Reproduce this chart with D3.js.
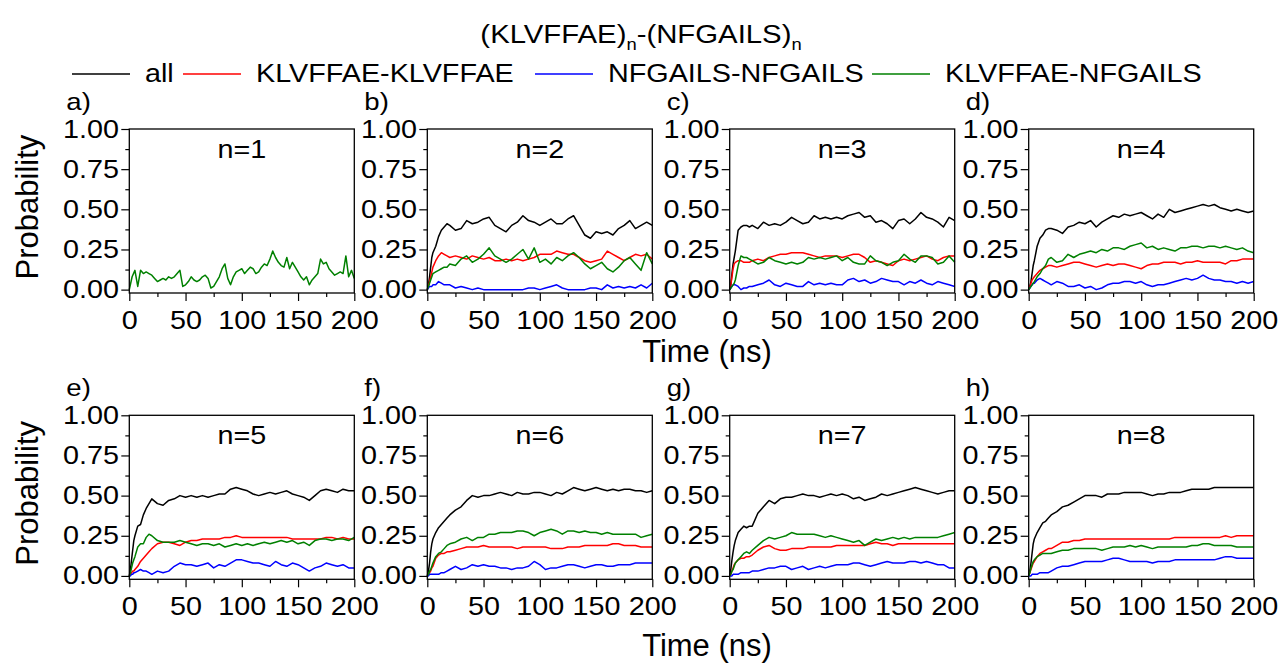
<!DOCTYPE html>
<html><head><meta charset="utf-8">
<script src="https://cdn.jsdelivr.net/npm/d3@7"></script>
<style>
body{margin:0;background:#fff}
text{font-family:"Liberation Sans",Arial,sans-serif;fill:#000}
</style>
</head><body>
<svg id="chart" width="1278" height="663"></svg>
<script>
// ---------------- DATA ----------------
const seriesNames = ["all","KLVFFAE-KLVFFAE","NFGAILS-NFGAILS","KLVFFAE-NFGAILS"];
const seriesColors = ["#000000","#ff0000","#0000ff","#008000"];
const panelLetters = ["a)","b)","c)","d)","e)","f)","g)","h)"];
const panelTitles = ["n=1","n=2","n=3","n=4","n=5","n=6","n=7","n=8"];
const yTicks = [0,0.25,0.5,0.75,1];
const yMinor = [0.125,0.375,0.625,0.875];
const xTicks = [0,50,100,150,200];
const xMinor = [25,75,125,175];

const timeA = [0,2.5,5,7.5,10,12.5,15,17.5,20,22.5,25,27.5,30,32.5,35,37.5,40,42.5,45,47.5,50,52.5,55,57.5,60,62.5,65,67.5,70,72.5,75,77.5,80,82.5,85,87.5,90,92.5,95,97.5,100,102.5,105,107.5,110,112.5,115,117.5,120,122.5,125,127.5,130,132.5,135,137.5,140,142.5,145,147.5,150,152.5,155,157.5,160,162.5,165,167.5,170,172.5,175,177.5,180,182.5,185,187.5,190,192.5,195,197.5,200];
const timeB = [0,1,2,3,4,5,7.5,10,12.5,15,17.5,20,25,30,35,40,45,50,55,60,65,70,75,80,85,90,95,100,105,110,115,120,125,130,135,140,145,150,155,160,165,170,175,180,185,190,195,200];

// n=1 (only KLVFFAE-NFGAILS pair exists)
const n1_kn = [0.00,0.08,0.12,0.02,0.12,0.10,0.11,0.10,0.09,0.07,0.05,0.06,0.07,0.06,0.08,0.07,0.08,0.10,0.12,0.02,0.03,0.05,0.08,0.06,0.05,0.06,0.08,0.09,0.07,0.01,0.02,0.05,0.08,0.13,0.16,0.07,0.03,0.08,0.11,0.12,0.13,0.10,0.12,0.14,0.13,0.10,0.11,0.14,0.16,0.15,0.19,0.24,0.20,0.17,0.15,0.14,0.20,0.13,0.17,0.14,0.11,0.08,0.06,0.08,0.03,0.06,0.08,0.10,0.19,0.16,0.17,0.13,0.11,0.09,0.10,0.11,0.10,0.21,0.08,0.12,0.07];

// n=2
const n2_all = [0,0.03,0.08,0.14,0.20,0.23,0.27,0.33,0.37,0.39,0.41,0.40,0.37,0.38,0.43,0.41,0.42,0.44,0.45,0.40,0.38,0.36,0.40,0.42,0.46,0.43,0.42,0.40,0.42,0.44,0.41,0.41,0.44,0.46,0.40,0.34,0.32,0.36,0.35,0.36,0.34,0.38,0.40,0.43,0.38,0.40,0.42,0.40];
const n2_kk = [0,0.02,0.05,0.08,0.11,0.14,0.18,0.21,0.23,0.22,0.21,0.20,0.21,0.20,0.19,0.21,0.20,0.19,0.20,0.18,0.18,0.19,0.18,0.19,0.18,0.19,0.20,0.22,0.22,0.22,0.24,0.23,0.22,0.22,0.20,0.18,0.17,0.18,0.19,0.24,0.22,0.20,0.18,0.20,0.22,0.21,0.22,0.19];
const n2_nn = [0,0.01,0.02,0.02,0.02,0.03,0.03,0.05,0.04,0.03,0.03,0.03,0.01,0.02,0.01,0.00,0.01,0.00,0.00,0.00,0.00,0.00,0.00,0.00,0.00,0.01,0.01,0.00,0.01,0.02,0.03,0.01,0.00,0.00,0.00,0.00,0.01,0.01,0.00,0.03,0.01,0.02,0.01,0.02,0.01,0.03,0.01,0.04];
const n2_kn = [0,0.02,0.04,0.06,0.08,0.10,0.11,0.12,0.13,0.14,0.14,0.16,0.15,0.19,0.21,0.17,0.19,0.22,0.26,0.21,0.19,0.17,0.19,0.22,0.25,0.19,0.26,0.17,0.19,0.16,0.20,0.18,0.21,0.23,0.20,0.16,0.13,0.15,0.17,0.13,0.11,0.14,0.18,0.20,0.16,0.12,0.23,0.16];

// n=3
const n3_all = [0,0.03,0.10,0.16,0.20,0.24,0.37,0.39,0.40,0.40,0.39,0.40,0.38,0.42,0.40,0.41,0.40,0.42,0.45,0.43,0.41,0.42,0.46,0.44,0.45,0.44,0.45,0.44,0.46,0.47,0.48,0.45,0.46,0.42,0.43,0.41,0.38,0.43,0.44,0.41,0.44,0.48,0.45,0.44,0.42,0.39,0.45,0.43];
const n3_kk = [0,0.03,0.08,0.13,0.16,0.17,0.18,0.18,0.17,0.17,0.17,0.18,0.19,0.18,0.20,0.21,0.22,0.22,0.23,0.23,0.23,0.22,0.21,0.20,0.21,0.21,0.21,0.20,0.21,0.22,0.22,0.20,0.17,0.18,0.17,0.16,0.15,0.18,0.19,0.18,0.19,0.20,0.21,0.19,0.18,0.20,0.21,0.21];
const n3_nn = [0,0.01,0.02,0.03,0.03,0.03,0.02,0.00,0.01,0.01,0.02,0.02,0.03,0.04,0.06,0.03,0.02,0.04,0.03,0.02,0.02,0.05,0.03,0.04,0.03,0.04,0.03,0.03,0.06,0.07,0.05,0.06,0.04,0.05,0.07,0.06,0.05,0.05,0.03,0.05,0.04,0.06,0.04,0.03,0.05,0.04,0.03,0.02];
const n3_kn = [0,0.01,0.02,0.03,0.04,0.06,0.15,0.21,0.20,0.20,0.19,0.18,0.16,0.17,0.20,0.18,0.17,0.16,0.17,0.16,0.17,0.20,0.19,0.20,0.19,0.20,0.21,0.18,0.20,0.17,0.16,0.16,0.21,0.18,0.17,0.15,0.17,0.18,0.22,0.19,0.17,0.21,0.21,0.20,0.16,0.17,0.21,0.17];

// n=4
const n4_all = [0,0.02,0.05,0.10,0.15,0.18,0.27,0.32,0.34,0.37,0.38,0.38,0.37,0.35,0.39,0.40,0.42,0.41,0.43,0.39,0.42,0.44,0.46,0.45,0.47,0.46,0.47,0.48,0.46,0.44,0.47,0.45,0.50,0.48,0.49,0.50,0.51,0.52,0.53,0.52,0.53,0.51,0.50,0.49,0.50,0.49,0.48,0.49];
const n4_kk = [0,0.02,0.04,0.06,0.07,0.08,0.10,0.12,0.13,0.14,0.15,0.15,0.14,0.15,0.16,0.17,0.17,0.16,0.15,0.14,0.15,0.16,0.15,0.16,0.16,0.15,0.14,0.13,0.15,0.16,0.16,0.17,0.17,0.17,0.16,0.17,0.17,0.18,0.17,0.17,0.17,0.17,0.16,0.18,0.18,0.19,0.19,0.19];
const n4_nn = [0,0.01,0.02,0.03,0.04,0.04,0.06,0.07,0.06,0.05,0.04,0.03,0.05,0.04,0.02,0.02,0.03,0.01,0.02,0.00,0.01,0.03,0.04,0.04,0.05,0.05,0.04,0.05,0.03,0.02,0.03,0.03,0.04,0.05,0.06,0.07,0.06,0.07,0.09,0.07,0.06,0.06,0.05,0.05,0.04,0.05,0.04,0.05];
const n4_kn = [0,0.01,0.02,0.03,0.04,0.05,0.08,0.10,0.13,0.15,0.19,0.20,0.17,0.18,0.22,0.20,0.22,0.23,0.24,0.23,0.25,0.24,0.26,0.26,0.25,0.27,0.28,0.29,0.26,0.27,0.25,0.26,0.25,0.24,0.26,0.26,0.27,0.27,0.26,0.27,0.27,0.26,0.27,0.26,0.25,0.26,0.24,0.23];

// n=5
const n5_all = [0,0.04,0.10,0.16,0.22,0.25,0.31,0.32,0.38,0.42,0.45,0.48,0.45,0.44,0.47,0.48,0.50,0.49,0.50,0.49,0.50,0.49,0.50,0.51,0.51,0.54,0.55,0.54,0.53,0.51,0.50,0.51,0.52,0.51,0.52,0.53,0.51,0.50,0.49,0.47,0.50,0.53,0.54,0.53,0.52,0.54,0.53,0.53];
const n5_kk = [0,0.01,0.02,0.03,0.03,0.04,0.06,0.09,0.11,0.13,0.15,0.17,0.20,0.21,0.21,0.20,0.19,0.21,0.22,0.22,0.23,0.23,0.23,0.23,0.24,0.24,0.25,0.24,0.24,0.24,0.24,0.24,0.24,0.24,0.24,0.24,0.23,0.23,0.23,0.23,0.23,0.23,0.24,0.24,0.23,0.24,0.23,0.23];
const n5_nn = [0,0.00,0.01,0.01,0.02,0.02,0.03,0.04,0.03,0.03,0.02,0.01,0.03,0.02,0.03,0.06,0.08,0.07,0.07,0.06,0.07,0.08,0.05,0.07,0.06,0.08,0.10,0.10,0.09,0.08,0.08,0.07,0.06,0.09,0.07,0.06,0.08,0.07,0.05,0.03,0.05,0.06,0.08,0.07,0.06,0.07,0.05,0.05];
const n5_kn = [0,0.02,0.05,0.08,0.10,0.12,0.18,0.20,0.20,0.24,0.26,0.25,0.22,0.21,0.21,0.21,0.22,0.21,0.20,0.19,0.20,0.20,0.19,0.20,0.18,0.19,0.20,0.19,0.20,0.19,0.20,0.21,0.20,0.21,0.22,0.21,0.22,0.20,0.21,0.19,0.22,0.23,0.23,0.22,0.23,0.23,0.22,0.24];

// n=6
const n6_all = [0,0.03,0.08,0.15,0.20,0.23,0.27,0.30,0.32,0.34,0.36,0.38,0.41,0.43,0.47,0.50,0.49,0.50,0.50,0.51,0.52,0.51,0.50,0.52,0.51,0.51,0.52,0.52,0.51,0.50,0.52,0.51,0.53,0.55,0.54,0.53,0.54,0.55,0.54,0.53,0.54,0.53,0.54,0.54,0.53,0.53,0.52,0.53];
const n6_kk = [0,0.01,0.02,0.03,0.05,0.06,0.11,0.13,0.14,0.14,0.15,0.15,0.16,0.17,0.18,0.18,0.18,0.19,0.18,0.18,0.18,0.18,0.18,0.17,0.18,0.18,0.18,0.18,0.18,0.17,0.17,0.17,0.18,0.18,0.18,0.19,0.19,0.19,0.19,0.19,0.20,0.20,0.19,0.19,0.19,0.18,0.18,0.18];
const n6_nn = [0,0.00,0.01,0.01,0.01,0.01,0.01,0.01,0.02,0.02,0.03,0.04,0.06,0.04,0.05,0.07,0.06,0.07,0.06,0.06,0.05,0.05,0.04,0.05,0.05,0.06,0.09,0.07,0.04,0.05,0.05,0.06,0.07,0.07,0.06,0.05,0.06,0.07,0.07,0.06,0.06,0.07,0.07,0.07,0.08,0.08,0.08,0.08];
const n6_kn = [0,0.01,0.03,0.04,0.06,0.08,0.12,0.14,0.15,0.17,0.19,0.20,0.21,0.23,0.24,0.22,0.24,0.24,0.26,0.26,0.27,0.27,0.27,0.28,0.28,0.27,0.25,0.27,0.28,0.29,0.28,0.26,0.28,0.28,0.27,0.28,0.27,0.27,0.26,0.27,0.26,0.26,0.26,0.26,0.26,0.24,0.25,0.26];

// n=7
const n7_all = [0,0.04,0.10,0.15,0.19,0.22,0.27,0.29,0.31,0.30,0.31,0.31,0.39,0.43,0.47,0.45,0.48,0.49,0.49,0.50,0.51,0.50,0.50,0.49,0.50,0.51,0.50,0.51,0.50,0.48,0.49,0.47,0.48,0.49,0.51,0.50,0.51,0.52,0.53,0.54,0.55,0.54,0.53,0.52,0.51,0.52,0.53,0.53];
const n7_kk = [0,0.01,0.03,0.05,0.07,0.08,0.10,0.11,0.11,0.12,0.12,0.13,0.16,0.18,0.19,0.17,0.16,0.16,0.17,0.17,0.17,0.18,0.18,0.18,0.18,0.18,0.19,0.19,0.19,0.19,0.19,0.19,0.20,0.21,0.20,0.20,0.19,0.20,0.20,0.20,0.20,0.20,0.20,0.20,0.20,0.20,0.20,0.20];
const n7_nn = [0,0.00,0.00,0.01,0.01,0.01,0.01,0.02,0.02,0.02,0.02,0.03,0.03,0.04,0.05,0.05,0.06,0.06,0.04,0.05,0.06,0.04,0.05,0.06,0.05,0.06,0.07,0.07,0.07,0.08,0.08,0.07,0.06,0.07,0.08,0.09,0.08,0.08,0.08,0.09,0.09,0.08,0.09,0.08,0.07,0.07,0.05,0.05];
const n7_kn = [0,0.01,0.03,0.04,0.06,0.08,0.10,0.12,0.14,0.15,0.14,0.16,0.19,0.22,0.24,0.23,0.24,0.25,0.27,0.26,0.26,0.26,0.26,0.25,0.24,0.25,0.24,0.23,0.22,0.21,0.22,0.19,0.21,0.23,0.22,0.23,0.24,0.23,0.24,0.23,0.24,0.24,0.24,0.24,0.24,0.25,0.26,0.27];

// n=8
const n8_all = [0,0.03,0.08,0.14,0.20,0.23,0.27,0.30,0.33,0.34,0.36,0.38,0.40,0.43,0.44,0.46,0.48,0.50,0.50,0.50,0.49,0.51,0.51,0.51,0.52,0.52,0.52,0.52,0.51,0.50,0.51,0.51,0.52,0.52,0.52,0.53,0.54,0.54,0.54,0.54,0.55,0.55,0.55,0.55,0.55,0.55,0.55,0.55];
const n8_kk = [0,0.02,0.04,0.06,0.08,0.09,0.12,0.14,0.15,0.16,0.17,0.17,0.19,0.21,0.21,0.22,0.22,0.23,0.23,0.23,0.23,0.23,0.23,0.23,0.23,0.23,0.23,0.23,0.23,0.23,0.23,0.23,0.23,0.24,0.24,0.24,0.24,0.24,0.24,0.24,0.24,0.24,0.25,0.24,0.25,0.25,0.25,0.25];
const n8_nn = [0,0.00,0.00,0.01,0.01,0.01,0.01,0.02,0.02,0.02,0.02,0.03,0.05,0.06,0.06,0.07,0.08,0.09,0.09,0.09,0.09,0.10,0.11,0.11,0.10,0.09,0.09,0.09,0.09,0.08,0.09,0.09,0.09,0.10,0.10,0.10,0.10,0.10,0.10,0.10,0.10,0.11,0.12,0.12,0.11,0.11,0.11,0.11];
const n8_kn = [0,0.02,0.05,0.07,0.09,0.10,0.12,0.13,0.14,0.14,0.14,0.14,0.15,0.16,0.16,0.17,0.17,0.17,0.17,0.17,0.16,0.17,0.18,0.18,0.18,0.19,0.18,0.19,0.18,0.17,0.18,0.18,0.18,0.18,0.18,0.18,0.19,0.19,0.20,0.20,0.19,0.19,0.19,0.19,0.18,0.18,0.18,0.18];

// ---------------- LAYOUT ----------------
const SX = 1.15;               // horizontal stretch of the reference text
const FS = 25;                 // base font size
const colLeft = [129.3, 427.3, 729.7, 1028.7];
const rowTop = [129, 415.3];
const PW = 225, PH = 164;

const svg = d3.select("#chart");

function stext(parent, x, y, str, size, anchor) {
  return parent.append("text")
    .attr("transform", `translate(${x},${y}) scale(${SX},1)`)
    .attr("font-size", size)
    .attr("text-anchor", anchor || "start")
    .text(str);
}

// Title
const title = svg.append("text")
  .attr("transform", `translate(641,43) scale(${SX},1)`)
  .attr("font-size", 25.5).attr("text-anchor", "middle");
title.append("tspan").text("(KLVFFAE)");
title.append("tspan").attr("font-size", 16).attr("dy", 7).text("n");
title.append("tspan").attr("dy", -7).text("-(NFGAILS)");
title.append("tspan").attr("font-size", 16).attr("dy", 7).text("n");

// Legend
const legendX = [72, 183, 535, 872];
const legendY = 74;
seriesNames.forEach((name, i) => {
  svg.append("line").attr("x1", legendX[i]).attr("x2", legendX[i] + 58)
    .attr("y1", legendY).attr("y2", legendY)
    .attr("stroke", seriesColors[i]).attr("stroke-width", 1.6);
  stext(svg, legendX[i] + 73, legendY + 8, name, FS, "start");
});

// Panels
const panelData = [
  {t: timeA, s: [null, null, null, n1_kn]},
  {t: timeB, s: [n2_all, n2_kk, n2_nn, n2_kn]},
  {t: timeB, s: [n3_all, n3_kk, n3_nn, n3_kn]},
  {t: timeB, s: [n4_all, n4_kk, n4_nn, n4_kn]},
  {t: timeB, s: [n5_all, n5_kk, n5_nn, n5_kn]},
  {t: timeB, s: [n6_all, n6_kk, n6_nn, n6_kn]},
  {t: timeB, s: [n7_all, n7_kk, n7_nn, n7_kn]},
  {t: timeB, s: [n8_all, n8_kk, n8_nn, n8_kn]}
];

panelData.forEach((pd, k) => {
  const row = Math.floor(k / 4), col = k % 4;
  const L = colLeft[col], T = rowTop[row];
  const x = d3.scaleLinear().domain([0, 200]).range([L, L + PW]);
  const y = d3.scaleLinear().domain([-0.021, 1]).range([T + PH, T]);
  const g = svg.append("g");

  // series lines
  const line = d3.line();
  pd.s.forEach((vals, si) => {
    if (!vals) return;
    const pts = vals.map((v, i) => [x(pd.t[i]), y(v)]);
    g.append("path").attr("d", line(pts)).attr("fill", "none")
      .attr("stroke", seriesColors[si]).attr("stroke-width", 1.5)
      .attr("stroke-linejoin", "round");
  });

  // frame
  g.append("rect").attr("x", L).attr("y", T).attr("width", PW).attr("height", PH)
    .attr("fill", "none").attr("stroke", "#000").attr("stroke-width", 1.3);

  // y axis (major + minor)
  const ya = g.append("g").attr("transform", `translate(${L},0)`)
    .call(d3.axisLeft(y).tickValues(yTicks).tickFormat(d3.format(".2f")).tickSize(8).tickPadding(2));
  g.append("g").attr("transform", `translate(${L},0)`)
    .call(d3.axisLeft(y).tickValues(yMinor).tickFormat("").tickSize(4));
  // x axis
  const xa = g.append("g").attr("transform", `translate(0,${T + PH})`)
    .call(d3.axisBottom(x).tickValues(xTicks).tickFormat(d3.format("d")).tickSize(8).tickPadding(10));
  g.append("g").attr("transform", `translate(0,${T + PH})`)
    .call(d3.axisBottom(x).tickValues(xMinor).tickFormat("").tickSize(4));

  g.selectAll(".domain").remove();
  g.selectAll(".tick line").attr("stroke", "#000").attr("stroke-width", 1.2);
  ya.selectAll("text").attr("font-size", FS).attr("font-family", null)
    .attr("x", -10.3 / SX).attr("transform", `scale(${SX},1)`).attr("fill", "#000");
  xa.selectAll("text").attr("font-size", FS).attr("font-family", null)
    .attr("transform", `scale(${SX},1)`).attr("fill", "#000");

  // panel title and letter
  stext(g, L + PW / 2, T + 29, panelTitles[k], FS, "middle");
  stext(g, L - 63, T - 19, panelLetters[k], 24, "start");

  // y label
  if (col === 0) {
    g.append("text")
      .attr("transform", `translate(38,${T + PH / 2 - 4}) rotate(-90)`)
      .attr("font-size", 31).attr("text-anchor", "middle").text("Probability");
  }
});

// x axis titles
[rowTop[0] + PH + 69, rowTop[1] + PH + 77].forEach(yy => {
  svg.append("text").attr("x", 707).attr("y", yy).attr("font-size", 31)
    .attr("text-anchor", "middle").text("Time (ns)");
});
</script>
</body></html>
